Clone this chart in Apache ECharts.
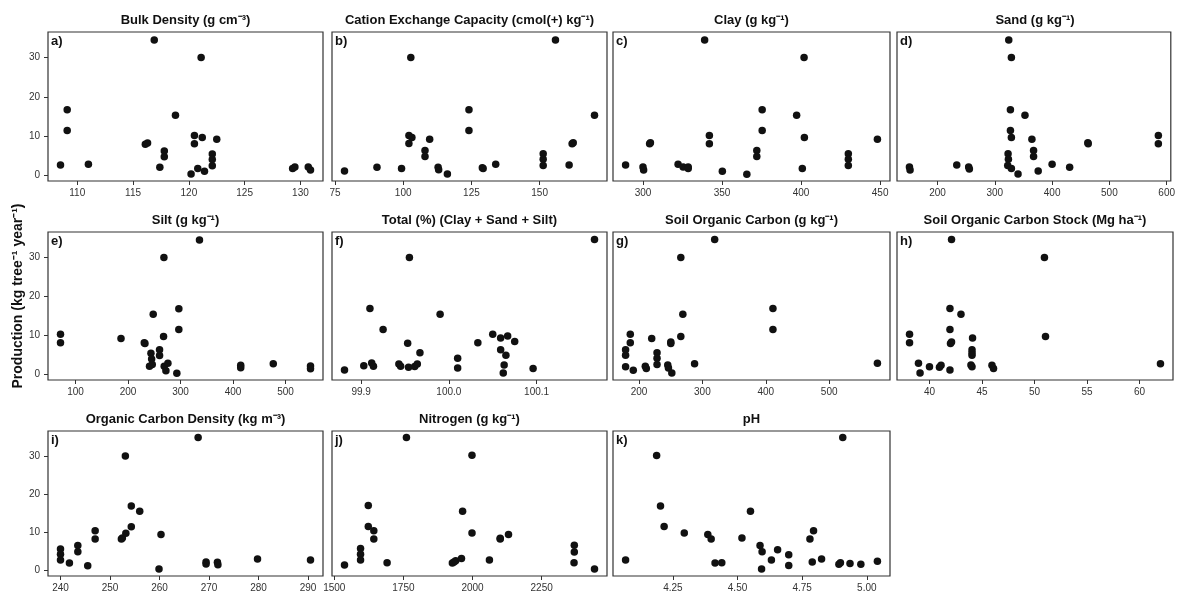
<!DOCTYPE html>
<html>
<head>
<meta charset="utf-8">
<script src="https://cdn.jsdelivr.net/npm/echarts@6/dist/echarts.min.js"></script>
<style>
  html, body { margin: 0; padding: 0; background: #fff; }
  #chart { width: 1178px; height: 593px; }
</style>
</head>
<body>
<div id="chart"></div>
<script>
// panel titles and tags
var titles = ['Bulk Density (g cm\u207B\u00B3)', 'Cation Exchange Capacity (cmol(+) kg\u207B\u00B9)', 'Clay (g kg\u207B\u00B9)', 'Sand (g kg\u207B\u00B9)',
  'Silt (g kg\u207B\u00B9)', 'Total (%) (Clay + Sand + Silt)', 'Soil Organic Carbon (g kg\u207B\u00B9)', 'Soil Organic Carbon Stock (Mg ha\u207B\u00B9)',
  'Organic Carbon Density (kg m\u207B\u00B3)', 'Nitrogen (g kg\u207B\u00B9)', 'pH'];
var tags = ['a)', 'b)', 'c)', 'd)', 'e)', 'f)', 'g)', 'h)', 'i)', 'j)', 'k)'];

// x tick labels per panel
var xTicks = [
  [110, 115, 120, 125, 130],
  [75, 100, 125, 150],
  [300, 350, 400, 450],
  [200, 300, 400, 500, 600],
  [100, 200, 300, 400, 500],
  [99.9, 100.0, 100.1],
  [200, 300, 400, 500],
  [40, 45, 50, 55, 60],
  [240, 250, 260, 270, 280, 290],
  [1500, 1750, 2000, 2250],
  [4.25, 4.50, 4.75, 5.00]
];
var xDecimals = [0, 0, 0, 0, 0, 1, 0, 0, 0, 0, 2];
var yTicks = [0, 10, 20, 30];

// a) bulk density
var bulkX = [108.5, 109.1, 109.1, 111.0, 116.1, 116.3, 116.9, 117.4, 117.8, 117.8, 118.8, 120.2, 120.5, 120.5, 120.8, 121.1, 121.2, 121.4, 122.1, 122.1, 122.1, 122.5, 129.3, 129.5, 130.7, 130.9];
var bulkY = [2.6, 16.7, 11.4, 2.8, 7.9, 8.2, 34.5, 2.0, 6.2, 4.7, 15.3, 0.3, 10.1, 8.0, 1.7, 30.0, 9.6, 1.0, 5.4, 4.0, 2.4, 9.2, 1.7, 2.1, 2.1, 1.3];
// b) CEC
var cecX = [78.5, 90.4, 99.4, 102.8, 102.1, 103.2, 102.1, 108.0, 108.0, 109.7, 112.8, 113.0, 116.2, 124.1, 124.1, 129.0, 129.3, 133.9, 151.3, 151.3, 151.3, 155.8, 160.8, 161.9, 162.3, 170.1];
var cecY = [1.1, 2.0, 1.7, 30.0, 10.1, 9.6, 8.1, 6.3, 4.8, 9.2, 2.0, 1.4, 0.3, 16.7, 11.4, 1.9, 1.7, 2.8, 5.5, 4.1, 2.5, 34.5, 2.6, 8.0, 8.3, 15.3];
// c) clay
var clayX = [289.0, 300.0, 300.4, 304.2, 304.7, 322.2, 325.4, 328.6, 328.6, 339.0, 342.0, 342.0, 350.2, 365.7, 372.0, 372.0, 375.4, 375.4, 397.2, 400.8, 401.9, 402.1, 429.9, 429.9, 429.9, 448.3];
var clayY = [2.6, 2.1, 1.35, 8.0, 8.3, 2.8, 2.1, 2.1, 1.7, 34.5, 10.1, 8.0, 1.0, 0.25, 6.3, 4.8, 16.7, 11.4, 15.3, 1.7, 30.0, 9.6, 5.5, 4.1, 2.5, 9.2];
// d) sand
var sandX = [150.9, 152.0, 233.5, 254.3, 255.5, 324.3, 328.9, 327.2, 327.2, 328.9, 323.1, 323.7, 322.5, 328.9, 340.5, 352.6, 364.7, 367.6, 367.6, 375.7, 400.0, 430.6, 462.4, 463.0, 585.5, 585.5];
var sandY = [2.1, 1.3, 2.6, 2.1, 1.6, 34.5, 30.0, 16.7, 11.4, 9.6, 5.5, 4.1, 2.5, 1.7, 0.3, 15.3, 9.2, 6.3, 4.8, 1.1, 2.8, 2.0, 8.3, 8.0, 10.1, 8.0];
// e) silt
var siltX = [71.5, 71.5, 186.7, 231.0, 232.3, 241.0, 243.7, 245.0, 246.2, 248.0, 260.1, 260.1, 268.4, 267.7, 269.0, 272.2, 276.0, 293.0, 296.8, 296.8, 336.1, 414.6, 414.6, 476.6, 547.5, 547.5];
var siltY = [10.3, 8.1, 9.2, 8.1, 7.9, 2.05, 5.4, 3.9, 2.5, 15.4, 6.3, 4.8, 30.0, 9.7, 2.05, 0.9, 2.8, 0.25, 16.8, 11.5, 34.5, 2.3, 1.7, 2.7, 2.1, 1.4];
// f) total
var totalX = [99.881, 99.903, 99.912, 99.914, 99.910, 99.925, 99.943, 99.945, 99.953, 99.955, 99.954, 99.961, 99.964, 99.967, 99.990, 100.010, 100.010, 100.033, 100.050, 100.059, 100.067, 100.059, 100.065, 100.063, 100.062, 100.075, 100.096, 100.166];
var totalY = [1.1, 2.2, 2.9, 2.05, 16.9, 11.5, 2.65, 2.05, 7.95, 30.0, 1.8, 2.0, 2.65, 5.5, 15.4, 4.1, 1.6, 8.1, 10.3, 9.3, 9.8, 6.3, 4.9, 2.4, 0.35, 8.4, 1.45, 34.6];
// g) soil organic carbon
var socX = [178.9, 178.9, 178.9, 186.3, 186.3, 191.0, 210.0, 211.6, 220.1, 228.5, 228.5, 228.5, 245.4, 246.5, 250.2, 250.2, 251.8, 266.0, 266.0, 269.2, 287.7, 319.4, 411.3, 411.3, 576.1];
var socY = [1.9, 4.9, 6.3, 10.3, 8.1, 1.0, 2.05, 1.5, 9.2, 5.5, 4.1, 2.5, 2.4, 1.6, 8.3, 7.9, 0.35, 30.0, 9.7, 15.4, 2.7, 34.6, 16.9, 11.5, 2.8];
// h) soil organic carbon stock
var stockX = [38.1, 38.1, 38.95, 39.1, 40.0, 40.95, 41.1, 41.95, 41.95, 42.0, 42.1, 41.95, 42.1, 43.0, 44.1, 44.05, 44.05, 44.05, 43.95, 44.05, 45.95, 46.1, 50.95, 51.05, 62.0];
var stockY = [10.3, 8.1, 2.8, 0.35, 1.95, 1.8, 2.3, 16.9, 11.5, 7.9, 8.3, 1.1, 34.6, 15.4, 9.3, 6.3, 5.5, 4.9, 2.4, 1.9, 2.3, 1.5, 30.0, 9.7, 2.7];
// i) organic carbon density
var ocdX = [240.0, 240.0, 240.0, 241.8, 243.5, 243.5, 245.5, 247.0, 247.0, 252.3, 252.5, 253.2, 253.1, 254.3, 254.3, 256.0, 259.9, 260.3, 267.8, 269.4, 269.4, 271.7, 271.8, 279.8, 290.5];
var ocdY = [5.6, 4.2, 2.7, 1.9, 6.5, 4.9, 1.2, 10.4, 8.2, 8.2, 8.5, 9.7, 30.0, 16.9, 11.4, 15.5, 0.35, 9.4, 34.8, 2.2, 1.7, 2.1, 1.5, 3.0, 2.7];
// j) nitrogen
var nitX = [1537, 1595, 1595, 1595, 1623, 1623, 1643, 1643, 1691, 1761, 1927, 1933, 1939, 1960, 1964, 1998, 1998, 2061, 2100, 2100, 2130, 2368, 2368, 2367, 2441];
var nitY = [1.4, 5.7, 4.2, 2.7, 17.0, 11.5, 10.4, 8.2, 2.0, 34.8, 1.9, 2.2, 2.5, 3.1, 15.5, 30.2, 9.8, 2.7, 8.4, 8.2, 9.4, 6.6, 4.8, 2.0, 0.35];
// k) pH
var phX = [4.067, 4.187, 4.202, 4.216, 4.294, 4.385, 4.398, 4.413, 4.439, 4.517, 4.550, 4.587, 4.595, 4.593, 4.631, 4.655, 4.698, 4.698, 4.780, 4.794, 4.789, 4.825, 4.892, 4.898, 4.935, 4.977, 5.041, 4.907];
var phY = [2.7, 30.1, 16.9, 11.5, 9.8, 9.4, 8.2, 1.9, 2.0, 8.5, 15.5, 6.5, 4.9, 0.35, 2.7, 5.4, 4.1, 1.3, 8.2, 10.4, 2.2, 3.0, 1.6, 2.0, 1.8, 1.6, 2.4, 34.8];

var panelsX = [bulkX, cecX, clayX, sandX, siltX, totalX, socX, stockX, ocdX, nitX, phX];
var panelsY = [bulkY, cecY, clayY, sandY, siltY, totalY, socY, stockY, ocdY, nitY, phY];

// layout
var colLeft = [48, 332, 613, 897];
var colWidth = [275, 275, 277, 276];
var rowTop = [32, 232, 431];
var rowHeight = [149, 148, 147];
var titleY = [20.5, 220.5, 419.5];
var font = '"Liberation Sans", Arial, sans-serif';
var textColor = '#333';

// shared y range (ggplot style 5% expansion)
var allY = [].concat.apply([], panelsY);
var yMin = Math.min.apply(null, allY), yMax = Math.max.apply(null, allY);
var yPad = (yMax - yMin) * 0.05;

var grids = [], xAxes = [], yAxes = [], series = [], graphics = [];

panelsX.forEach(function (xs, i) {
    var ys = panelsY[i];
    var row = Math.floor(i / 4), col = i % 4;
    grids.push({
        left: colLeft[col], top: rowTop[row], width: colWidth[col], height: rowHeight[row],
        show: true, borderColor: '#333', borderWidth: 1.2, backgroundColor: 'transparent'
    });
    var xMin = Math.min.apply(null, xs), xMax = Math.max.apply(null, xs);
    var pad = (xMax - xMin) * 0.05;
    var dec = xDecimals[i];
    xAxes.push({
        type: 'value', gridIndex: i, min: xMin - pad, max: xMax + pad,
        axisLine: { show: false, onZero: false },
        splitLine: { show: false },
        axisTick: { show: true, length: 4, customValues: xTicks[i], lineStyle: { color: '#333', width: 1 } },
        axisLabel: {
            customValues: xTicks[i], margin: 7, fontSize: 10, color: textColor, fontFamily: font,
            formatter: function (v) { return v.toFixed(dec); }
        }
    });
    var firstCol = col === 0;
    yAxes.push({
        type: 'value', gridIndex: i, min: yMin - yPad, max: yMax + yPad,
        axisLine: { show: false, onZero: false },
        splitLine: { show: false },
        axisTick: { show: firstCol, length: 4, customValues: yTicks, lineStyle: { color: '#333', width: 1 } },
        axisLabel: { show: firstCol, customValues: yTicks, margin: 8, fontSize: 10, color: textColor, fontFamily: font }
    });
    series.push({
        type: 'scatter', xAxisIndex: i, yAxisIndex: i,
        symbol: 'circle', symbolSize: 7.5,
        itemStyle: { color: '#111', opacity: 1 },
        data: xs.map(function (x, k) { return [x, ys[k]]; })
    });
    graphics.push({
        type: 'text', x: colLeft[col] + colWidth[col] / 2, y: titleY[row],
        style: { text: titles[i], font: 'bold 13px ' + font, fill: '#111',
                 textAlign: 'center', textVerticalAlign: 'middle', align: 'center', verticalAlign: 'middle' }
    });
    graphics.push({
        type: 'text', x: colLeft[col] + 3, y: rowTop[row] + 3,
        style: { text: tags[i], font: 'bold 13px ' + font, fill: '#111',
                 textAlign: 'left', textVerticalAlign: 'top', align: 'left', verticalAlign: 'top' }
    });
});

graphics.push({
    type: 'text', x: 18, y: 296, rotation: Math.PI / 2,
    style: { text: 'Production (kg tree\u207B\u00B9 year\u207B\u00B9)', font: 'bold 14px ' + font, fill: '#111',
             textAlign: 'center', textVerticalAlign: 'middle', align: 'center', verticalAlign: 'middle' }
});

var chart = echarts.init(document.getElementById('chart'));
chart.setOption({
    animation: false,
    grid: grids,
    xAxis: xAxes,
    yAxis: yAxes,
    series: series,
    graphic: graphics
});
</script>
</body>
</html>
